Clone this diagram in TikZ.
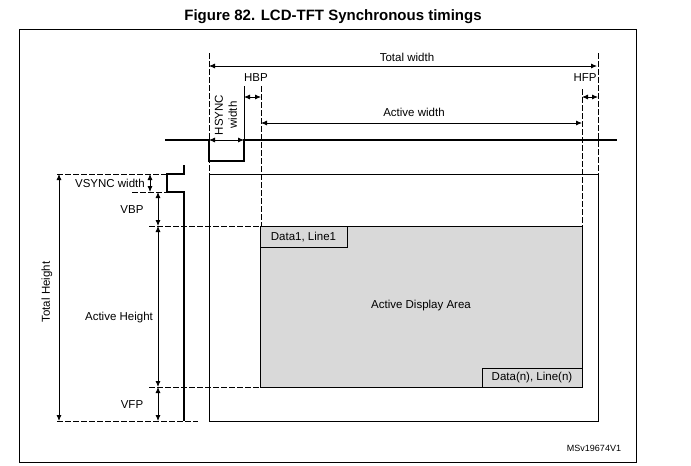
\documentclass[tikz,border=0pt]{standalone}
\usepackage{fontspec}
\setmainfont{Liberation Sans}
\usetikzlibrary{arrows.meta}
\begin{document}
\begin{tikzpicture}[x=1pt,y=-1pt,
  thin line/.style={line width=0.8pt},
  sig/.style={line width=2.2pt},
  dash line/.style={line width=0.8pt, dash pattern=on 6pt off 2pt},
  dim/.style={line width=0.8pt, {Latex[length=6pt,width=5pt]}-{Latex[length=6pt,width=5pt]}},
  lbl/.style={inner sep=0pt, font=\fontsize{11.5}{13}\selectfont},
  titlefont/.style={font=\bfseries\fontsize{15}{17}\selectfont}]
\useasboundingbox (0,0) rectangle (691,466);
% title and frame
\node[titlefont] (title) at (333,17) {Figure 82. LCD-TFT Synchronous timings};
\draw[thin line] (19,29) rectangle (636,462);
% active display area
\draw[thin line, fill=black!15] (260,226) rectangle (582,387);
\node[lbl] (act) at (421,306) {Active Display Area};
\draw[thin line] (260,226) rectangle (347,247);
\node[lbl] (d1) at (303.5,237) {Data1, Line1};
\draw[thin line] (482,368) rectangle (582,387);
\node[lbl] (dn) at (532,378) {Data(n), Line(n)};
% screen rectangle
\draw[thin line] (209,174) rectangle (598,421);
% vertical dashed guides
\coordinate (tl) at (209,53); \coordinate (tlb) at (209,174);
\coordinate (tr) at (598,53); \coordinate (trb) at (598,174);
\coordinate (al) at (261,86); \coordinate (alb) at (261,226);
\coordinate (ar) at (582,89); \coordinate (arb) at (582,226);
\draw[dash line] (tl) -- (tlb);
\draw[dash line] (tr) -- (trb);
\draw[dash line] (al) -- (alb);
\draw[dash line] (ar) -- (arb);
\coordinate (hs) at (244,86); \coordinate (hsb) at (244,140);
\draw[thin line] (hs) -- (hsb);
% horizontal dashed guides
\coordinate (h1a) at (57,174); \coordinate (h1b) at (167,174);
\coordinate (h2a) at (132,192); \coordinate (h2b) at (167,192);
\coordinate (h3a) at (149,226); \coordinate (h3b) at (260,226);
\coordinate (h4a) at (149,387); \coordinate (h4b) at (260,387);
\coordinate (h5a) at (57,421); \coordinate (h5b) at (198,421);
\draw[dash line] (h1a) -- (h1b);
\draw[dash line] (h2a) -- (h2b);
\draw[dash line] (h3a) -- (h3b);
\draw[dash line] (h4a) -- (h4b);
\draw[dash line] (h5a) -- (h5b);
% sync signals
\draw[sig] (165,140) -- (209,140) -- (209,161) -- (244,161) -- (244,140) -- (617,140);
\draw[sig] (184,165) -- (184,174) -- (167,174) -- (167,192) -- (184,192) -- (184,421);
% horizontal dimensions
\coordinate (tw1) at (209,66); \coordinate (tw2) at (597,66);
\draw[dim] (tw1) -- (tw2);
\node[lbl] (twl) at (407,57) {Total width};
\coordinate (hb1) at (244,97); \coordinate (hb2) at (261,97);
\draw[dim] (hb1) -- (hb2);
\node[lbl] (hbl) at (256,78) {HBP};
\coordinate (hf1) at (582,97); \coordinate (hf2) at (598,97);
\draw[dim] (hf1) -- (hf2);
\node[lbl] (hfl) at (585,78) {HFP};
\coordinate (aw1) at (261,123); \coordinate (aw2) at (582,123);
\draw[dim] (aw1) -- (aw2);
\node[lbl] (awl) at (414,112) {Active width};
\coordinate (hw1) at (209,140); \coordinate (hw2) at (244,140);
\draw[dim] (hw1) -- (hw2);
\node[lbl, rotate=90, align=center, font=\fontsize{11.5}{14}\selectfont] (hwl) at (226,115) {HSYNC\\width};
% vertical dimensions
\coordinate (th1) at (59,174); \coordinate (th2) at (59,421);
\draw[dim] (th1) -- (th2);
\node[lbl, rotate=90] (thl) at (47,292) {Total Height};
\coordinate (vs1) at (150,174); \coordinate (vs2) at (150,192);
\draw[dim] (vs1) -- (vs2);
\node[lbl, anchor=east] (vsl) at (145,183) {VSYNC width};
\coordinate (vb1) at (158,192); \coordinate (vb2) at (158,226);
\draw[dim] (vb1) -- (vb2);
\node[lbl] (vbl) at (132,210) {VBP};
\coordinate (ah1) at (158,226); \coordinate (ah2) at (158,387);
\draw[dim] (ah1) -- (ah2);
\node[lbl] (ahl) at (119,318) {Active Height};
\coordinate (vf1) at (158,387); \coordinate (vf2) at (158,421);
\draw[dim] (vf1) -- (vf2);
\node[lbl] (vfl) at (132,405) {VFP};
% reference code
\node[inner sep=0pt, font=\fontsize{9}{10}\selectfont] (ms) at (594,448) {MSv19674V1};
\end{tikzpicture}
\end{document}
